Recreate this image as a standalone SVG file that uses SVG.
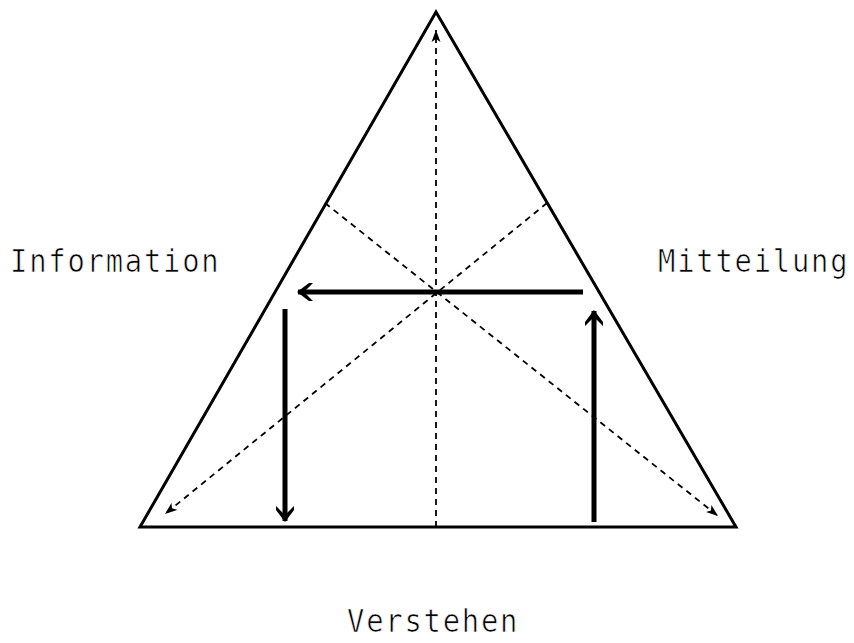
<svg xmlns="http://www.w3.org/2000/svg" width="854" height="643" viewBox="0 0 854 643">
<style>
.lbl{font-family:"DejaVu Sans Mono","Liberation Mono",monospace;font-size:32px;fill:#000;letter-spacing:2px;stroke:#fff;stroke-width:0.7px}
.dash{stroke:#000;stroke-width:1.8;stroke-dasharray:6,5;fill:none}
.thick{stroke:#000;stroke-width:5;fill:none}
</style>
<defs>
<marker id="ad" viewBox="0 0 12 10" refX="12" refY="5" markerWidth="12" markerHeight="10" markerUnits="userSpaceOnUse" orient="auto">
<path d="M0,0.5 L12,5 L0,9.5 L3,5 Z" fill="#000"/>
</marker>
<marker id="at" viewBox="0 0 16 18" refX="15" refY="9" markerWidth="16" markerHeight="18" markerUnits="userSpaceOnUse" orient="auto">
<path d="M0,0 L4,0 L16,9 L4,18 L0,18 L9,9 Z" fill="#000"/>
</marker>
</defs>
<g id="triangle">
<polygon points="436,12 140,527 736,527" fill="none" stroke="#000" stroke-width="3"/>
</g>
<g id="connectors">
<line class="dash" x1="436" y1="527" x2="436" y2="30" marker-end="url(#ad)"/>
<line class="dash" x1="547" y1="203" x2="165" y2="514" marker-end="url(#ad)"/>
<line class="dash" x1="325" y1="203" x2="718" y2="516" marker-end="url(#ad)"/>
<line class="thick" x1="583" y1="292" x2="298" y2="292" marker-end="url(#at)"/>
<line class="thick" x1="285" y1="309" x2="285" y2="521" marker-end="url(#at)"/>
<line class="thick" x1="594" y1="522" x2="594" y2="311" marker-end="url(#at)"/>
</g>
<g id="information"><text class="lbl" transform="translate(10,272) scale(0.9,1)">Information</text></g>
<g id="mitteilung"><text class="lbl" transform="translate(658,272) scale(0.9,1)">Mitteilung</text></g>
<g id="verstehen"><text class="lbl" transform="translate(347,632) scale(0.9,1)">Verstehen</text></g>
</svg>
